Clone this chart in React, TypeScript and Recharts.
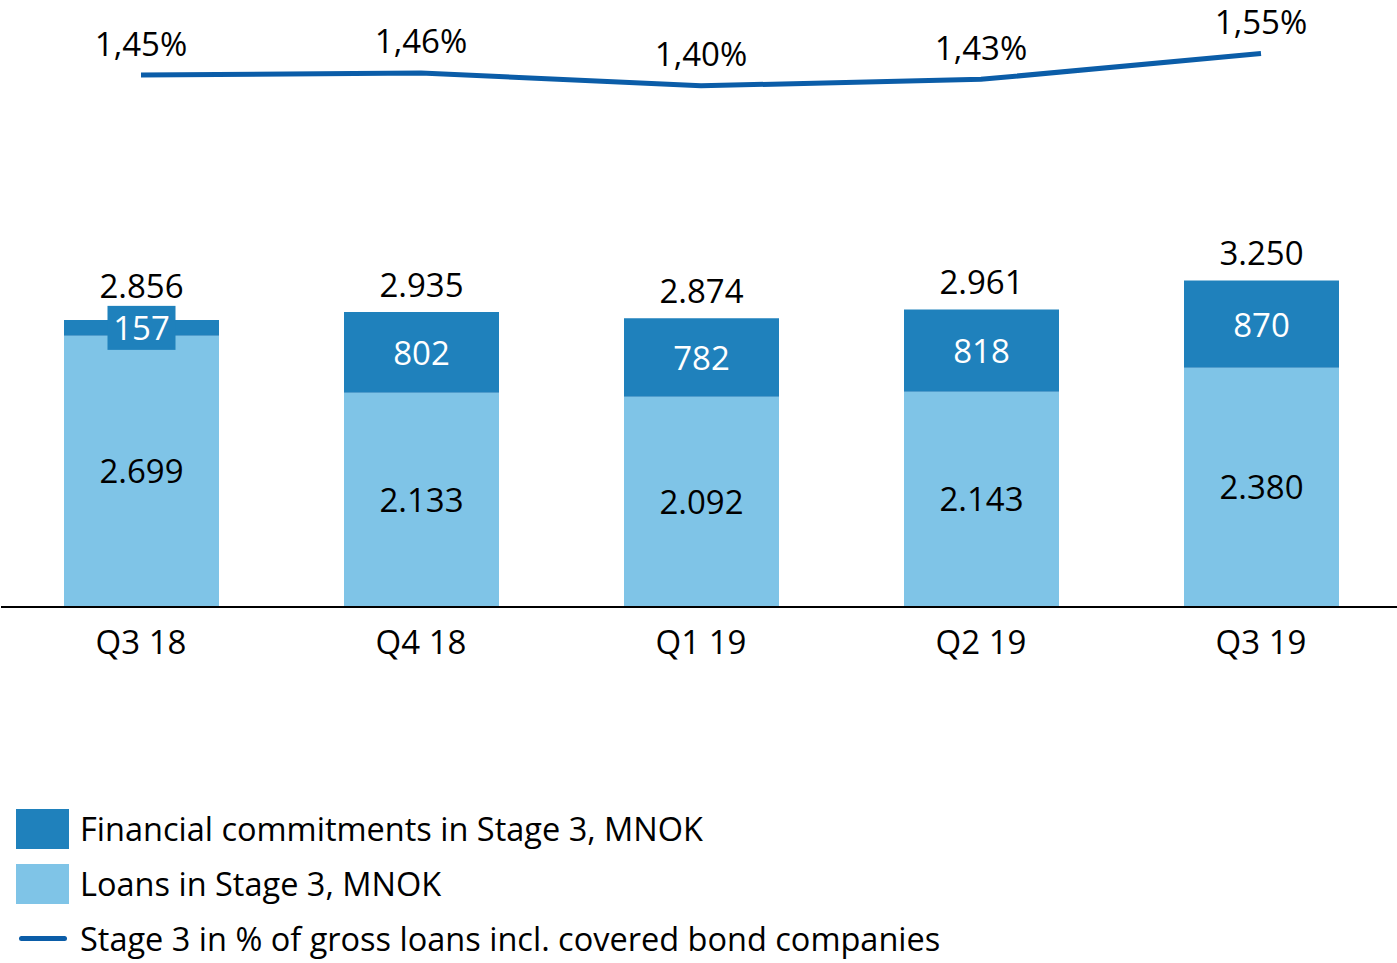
import { Bar, ComposedChart, LabelList, Line, XAxis, YAxis } from "recharts"

const quarters = ["Q3 18", "Q4 18", "Q1 19", "Q2 19", "Q3 19"]
const loans = [2699, 2133, 2092, 2143, 2380]
const commitments = [157, 802, 782, 818, 870]
const totals = [2856, 2935, 2874, 2961, 3250]
const stagePct = [1.45, 1.46, 1.4, 1.43, 1.55]

const DARK = "#1F81BC"
const LIGHT = "#7FC4E7"
const LINE = "#0B5DA8"
const FONT = "'Open Sans', sans-serif"
const FS = 33

const data = quarters.map((q, i) => ({
  name: q,
  loans: loans[i],
  commitments: commitments[i],
  total: totals[i],
  pct: stagePct[i],
}))

const legendItems = [
  { label: "Financial commitments in Stage 3, MNOK", color: DARK, type: "box" },
  { label: "Loans in Stage 3, MNOK", color: LIGHT, type: "box" },
  { label: "Stage 3 in % of gross loans incl. covered bond companies", color: LINE, type: "line" },
]

const fmtNok = (v: number) => v.toLocaleString("de-DE")
const fmtPct = (v: number) => v.toFixed(2).replace(".", ",") + "%"

function CommitmentLabel(props: any) {
  const { x, y, width, height, value } = props
  const cx = x + width / 2
  const cy = y + height / 2
  const small = height < 40
  return (
    <g>
      {small && <rect x={cx - 34} y={cy - 22} width={68} height={44} fill={DARK} />}
      <text x={cx} y={cy} fill="#fff" fontSize={FS} fontFamily={FONT} textAnchor="middle" dominantBaseline="central">
        {fmtNok(value)}
      </text>
    </g>
  )
}

function TotalLabel(props: any) {
  const { x, y, width, height, value } = props
  const cx = x + width / 2
  const small = height < 40
  const top = small ? y + height / 2 - 22 : y
  return (
    <text x={cx} y={top - (small ? 20 : 28)} fill="#000" fontSize={FS} fontFamily={FONT} textAnchor="middle" dominantBaseline="central">
      {fmtNok(value)}
    </text>
  )
}

function PctLabel(props: any) {
  const { x, y, value } = props
  return (
    <text x={x} y={y - 32} fill="#000" fontSize={FS} fontFamily={FONT} textAnchor="middle" dominantBaseline="central">
      {fmtPct(value)}
    </text>
  )
}

export default function App() {
  return (
    <div style={{ position: "absolute", top: 0, left: 0, width: 1397, height: 963, overflow: "hidden", background: "#fff", fontFamily: FONT }}>
      <ComposedChart width={1401} height={680} data={data} margin={{ top: 0, right: 0, left: 1, bottom: 0 }}>
        <XAxis
          dataKey="name"
          height={73}
          tickLine={false}
          axisLine={{ stroke: "#000", strokeWidth: 2 }}
          tick={{ fill: "#000", fontSize: FS, fontFamily: FONT }}
          tickMargin={18}
        />
        <YAxis yAxisId="nok" hide domain={[0, 6040]} />
        <YAxis yAxisId="pct" hide orientation="right" domain={[-1.024, 1.799]} allowDataOverflow />
        <Bar yAxisId="nok" dataKey="loans" stackId="s" fill={LIGHT} barSize={155} isAnimationActive={false}>
          <LabelList dataKey="loans" position="center" fill="#000" fontSize={FS} fontFamily={FONT} formatter={(v: any) => fmtNok(v)} />
        </Bar>
        <Bar yAxisId="nok" dataKey="commitments" stackId="s" fill={DARK} barSize={155} isAnimationActive={false}>
          <LabelList dataKey="commitments" content={CommitmentLabel} />
          <LabelList dataKey="total" content={TotalLabel} />
        </Bar>
        <Line yAxisId="pct" dataKey="pct" stroke={LINE} strokeWidth={5} dot={false} type="linear" isAnimationActive={false}>
          <LabelList dataKey="pct" content={PctLabel} />
        </Line>
      </ComposedChart>
      <div style={{ position: "absolute", left: 16, top: 801 }}>
        {legendItems.map((item) => (
          <div key={item.label} style={{ display: "flex", alignItems: "center", height: 55 }}>
            <div style={{ width: 53, display: "flex", justifyContent: "center" }}>
              {item.type === "box" ? (
                <div style={{ width: 53, height: 40, background: item.color }} />
              ) : (
                <div style={{ width: 48, height: 5, borderRadius: 3, background: item.color }} />
              )}
            </div>
            <span style={{ marginLeft: 11, fontSize: 32.5, color: "#000", whiteSpace: "nowrap" }}>{item.label}</span>
          </div>
        ))}
      </div>
    </div>
  )
}
